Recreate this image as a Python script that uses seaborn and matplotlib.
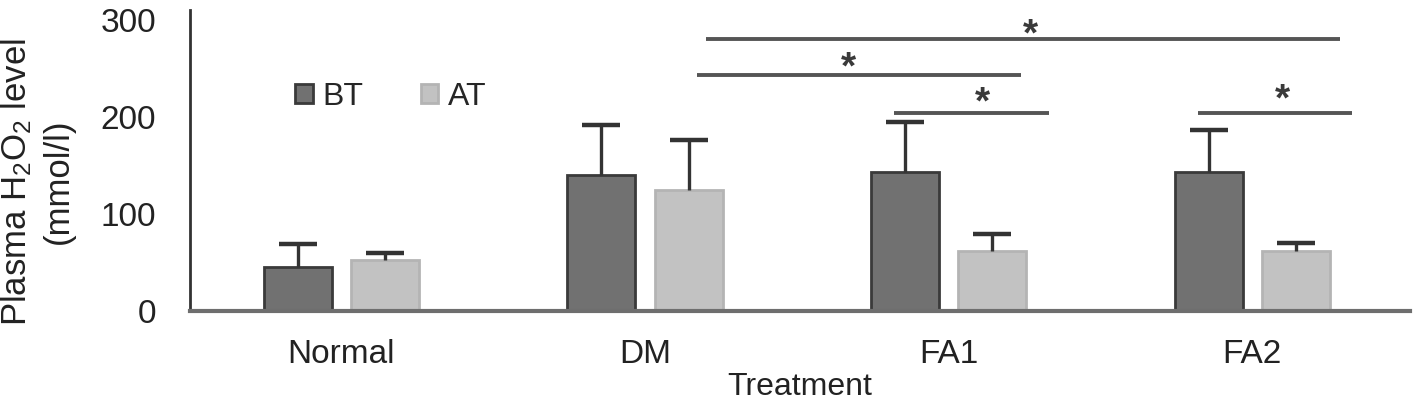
import matplotlib
matplotlib.use("Agg")
import matplotlib.pyplot as plt
import seaborn as sns
import pandas as pd

# ---- data ----
categories = ["Normal", "DM", "FA1", "FA2"]
series_names = ["BT", "AT"]
bt_values = [45, 140, 143, 143]
at_values = [52, 125, 62, 62]
bt_errors = [24, 52, 52, 44]
at_errors = [8, 51, 17, 8]
y_ticks = [0, 100, 200, 300]

# significance brackets: (x start, x end, y) in data units, star label
sig_x0 = [1.20, 1.17, 1.82, 2.82]
sig_x1 = [3.29, 2.24, 2.33, 3.33]
sig_y = [280, 243, 204, 204]
star_x = [2.27, 1.67, 2.11, 3.10]
star_y = [292, 258, 222, 225]
star_text = ["*", "*", "*", "*"]

sns.set_theme(style="white")
plt.rcParams["font.family"] = ["Liberation Sans", "DejaVu Sans"]
plt.rcParams["mathtext.fontset"] = "custom"
plt.rcParams["mathtext.rm"] = "Liberation Sans"
plt.rcParams["mathtext.it"] = "Liberation Sans"
plt.rcParams["mathtext.bf"] = "Liberation Sans"

df = pd.DataFrame({
    "Treatment": categories * 2,
    "Group": [series_names[0]] * 4 + [series_names[1]] * 4,
    "Value": bt_values + at_values,
})

fig = plt.figure(figsize=(14.15, 4.08), dpi=100)
ax = fig.add_axes([0.134, 0.238, 0.8625, 0.737])

face = {"BT": "#717171", "AT": "#c2c2c2"}
edge = {"BT": "#3a3a3a", "AT": "#b4b4b4"}

sns.barplot(data=df, x="Treatment", y="Value", hue="Group",
            order=categories, hue_order=series_names,
            palette=face, width=0.574, gap=0.22, errorbar=None,
            linewidth=2, edgecolor="#3a3a3a", ax=ax, saturation=1)

errs = [bt_errors, at_errors]
bar_containers = list(ax.containers)
for i, cont in enumerate(bar_containers):
    name = series_names[i]
    xs, ys = [], []
    for bar in cont:
        bar.set_edgecolor(edge[name])
        xs.append(bar.get_x() + bar.get_width() / 2)
        ys.append(bar.get_height())
    _, caps, _ = ax.errorbar(xs, ys, yerr=[[0] * len(xs), errs[i]],
                             fmt="none", ecolor="#333333", elinewidth=2.4,
                             capsize=14, capthick=3.2, zorder=1)
    # keep only the upper caps
    caps[0].set_visible(False)

for x0, x1, y in zip(sig_x0, sig_x1, sig_y):
    ax.plot([x0, x1], [y, y], color="#555555", lw=2.8, solid_capstyle="butt")
for sx, sy, st in zip(star_x, star_y, star_text):
    ax.text(sx, sy - 18, st, ha="center", va="baseline", fontsize=28,
            fontweight="bold", color="#3a3a3a")

ax.set_xlim(-0.5, 3.52)
ax.set_ylim(0, 310)
ax.set_yticks(y_ticks)
ax.tick_params(axis="both", length=0, labelsize=24, colors="#222222")
ax.tick_params(axis="y", pad=24)
ax.tick_params(axis="x", pad=20)

for s in ["top", "right"]:
    ax.spines[s].set_visible(False)
ax.spines["left"].set_color("#333333")
ax.spines["left"].set_linewidth(2)
ax.spines["bottom"].set_color("#6e6e6e")
ax.spines["bottom"].set_linewidth(3)

ax.set_xlabel("Treatment", fontsize=23, color="#222222", labelpad=2)
ax.set_ylabel("Plasma H$_2$O$_2$ level\n(mmol/l)", fontsize=25,
              color="#222222", linespacing=1.3)
ax.yaxis.set_label_coords(-0.094, 0.43)

leg = ax.legend(loc="upper left", bbox_to_anchor=(0.076, 0.805), frameon=False,
                fontsize=23, ncol=2, handlelength=0.55, handleheight=0.55,
                handletextpad=0.3, columnspacing=1.8, borderaxespad=0)
for h, name in zip(leg.legend_handles, series_names):
    h.set_edgecolor(edge[name])

fig.savefig("out.png", dpi=100)
